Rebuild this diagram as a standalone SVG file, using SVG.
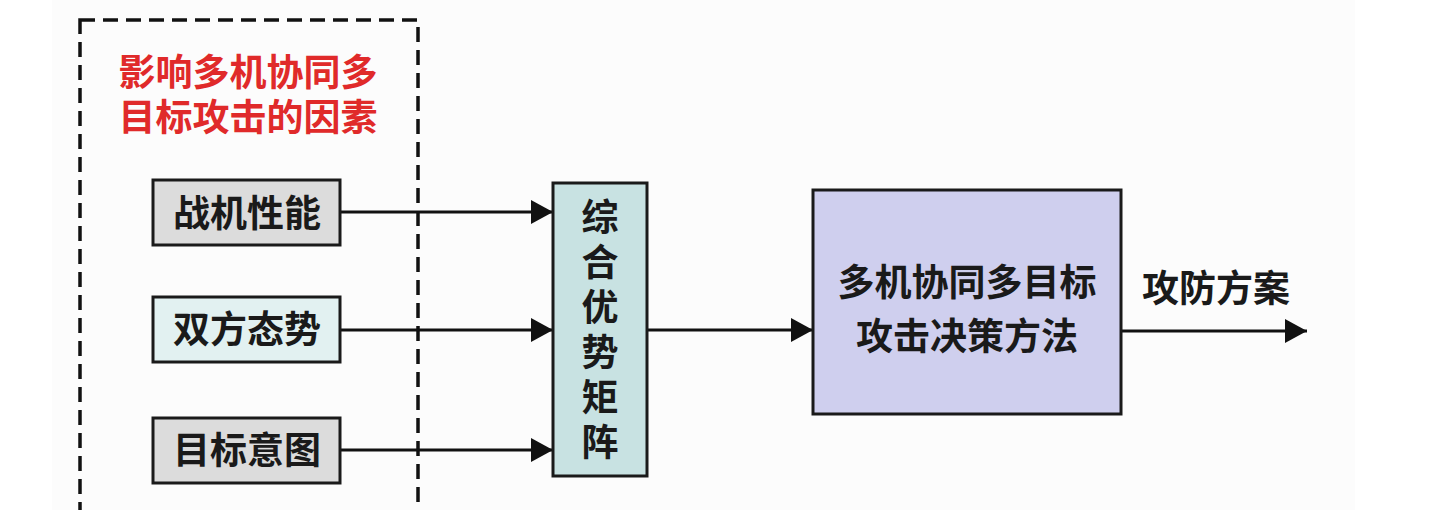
<svg xmlns="http://www.w3.org/2000/svg" width="1446" height="510" viewBox="0 0 1446 510">
<defs>
<style>
.box{stroke:#1a1a1a;stroke-width:3}
.t{font-family:"Noto Sans CJK SC","Noto Sans",sans-serif;font-weight:700;font-size:37px;fill:#1a1a1a;text-anchor:middle}
.red{fill:#e02a2a}
.conn{stroke:#111;stroke-width:3;fill:none;marker-end:url(#arr)}
.vert{writing-mode:vertical-rl;text-anchor:start;letter-spacing:8px}
</style>
<marker id="arr" markerUnits="userSpaceOnUse" markerWidth="22" markerHeight="24" refX="22" refY="12" orient="auto">
<path d="M0,0 L22,12 L0,24 z" fill="#111"/>
</marker>
</defs>
<rect x="0" y="0" width="1446" height="510" fill="#ffffff"/>
<rect x="52" y="0" width="1303" height="510" fill="#fcfcfc"/>
<g id="factors-group">
<rect x="80" y="20" width="338" height="520" fill="none" stroke="#111" stroke-width="3.5" stroke-dasharray="15 8"/>
<text class="t red" x="248" y="86"><tspan x="248" y="86">影响多机协同多</tspan><tspan x="248" y="131">目标攻击的因素</tspan></text>
</g>
<g id="connectors">
<line class="conn" x1="340" y1="212" x2="553" y2="212"/>
<line class="conn" x1="340" y1="330" x2="553" y2="330"/>
<line class="conn" x1="340" y1="450" x2="553" y2="450"/>
<line class="conn" x1="647" y1="330" x2="813" y2="330"/>
<line class="conn" x1="1121" y1="331" x2="1307" y2="331"/>
</g>
<g id="node-performance">
<rect class="box" x="153" y="180" width="187" height="65" fill="#dcdcdc"/>
<text class="t" x="247" y="227">战机性能</text>
</g>
<g id="node-situation">
<rect class="box" x="153" y="297" width="187" height="65" fill="#e2f1f1"/>
<text class="t" x="247" y="343">双方态势</text>
</g>
<g id="node-intent">
<rect class="box" x="153" y="418" width="187" height="65" fill="#dcdcdc"/>
<text class="t" x="247" y="464">目标意图</text>
</g>
<g id="node-matrix">
<rect class="box" x="553" y="183" width="94" height="293" fill="#c8e2e2"/>
<text class="t vert" x="600" y="198">综合优势矩阵</text>
</g>
<g id="node-method">
<rect class="box" x="813" y="190" width="308" height="224" fill="#cfcfee"/>
<text class="t" x="967" y="296"><tspan x="967" y="296">多机协同多目标</tspan><tspan x="967" y="350">攻击决策方法</tspan></text>
</g>
<g id="label-output">
<text class="t" x="1216" y="302">攻防方案</text>
</g>
</svg>
